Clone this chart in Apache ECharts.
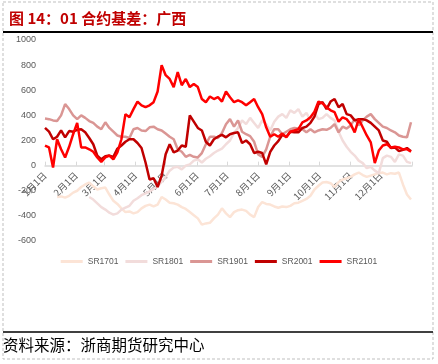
<!DOCTYPE html>
<html><head><meta charset="utf-8">
<script src="https://cdn.jsdelivr.net/npm/echarts@6/dist/echarts.min.js"></script>
<style>html,body{margin:0;padding:0;background:#fff}#c{width:438px;height:364px}</style>
</head><body><div id="c"></div>
<script>
// day of year (0 = 1月1日), sampled every 4 days
const days=[0,4,8,12,16,20,24,28,32,36,40,44,48,52,56,60,64,68,72,76,80,84,88,92,96,100,104,108,112,116,120,124,128,132,136,140,144,148,152,156,160,164,168,172,176,180,184,188,192,196,200,204,208,212,216,220,224,228,232,236,240,244,248,252,256,260,264,268,272,276,280,284,288,292,296,300,304,308,312,316,320,324,328,332,336,340,344,348,352,356,360,364];
const monthStarts=[0,31,59,90,120,151,181,212,243,273,304,334];
const monthEnd=365;
const monthLabels=['1月1日','2月1日','3月1日','4月1日','5月1日','6月1日','7月1日','8月1日','9月1日','10月1日','11月1日','12月1日'];
const seriesNames=['SR1701','SR1801','SR1901','SR2001','SR2101'];

const sr1701=[null,null,null,-250,-245,-255,-240,-215,-200,-170,
-150,-135,-165,-190,-180,-175,-230,-280,-305,-340,
-370,-365,-380,-370,-340,-320,-310,-325,-310,-250,
-270,-295,-300,-310,-330,-345,-370,-395,-420,-470,
-460,-455,-420,-390,-340,-380,-410,-370,-355,-350,
-360,-390,-410,-330,-290,-305,-310,-325,-335,-325,
-330,-320,-300,-295,-280,-265,-240,-190,-160,-135,
-130,-140,-170,-130,-110,-100,-90,-70,-55,-75,
-90,-80,-70,-60,-55,-70,-60,-65,-55,-150,
-230,-270];
const sr1801=[null,null,null,null,null,null,null,null,null,null,
null,-250,-270,-300,-330,-350,-375,-390,-380,-350,
-335,-320,-280,-260,-235,-220,-205,-185,-165,-130,
-90,-40,-15,-10,-30,0,10,40,50,25,
55,75,100,120,135,170,200,260,300,360,
330,380,340,300,360,330,280,350,390,410,
380,440,420,450,390,420,360,420,370,380,
410,380,360,270,200,150,110,80,40,20,
-20,-10,-40,-60,60,80,70,30,90,80,
30,20];
const sr1901=[375,370,360,355,400,490,450,400,370,400,
380,355,340,310,290,345,300,270,240,230,
230,220,290,300,280,275,305,310,290,280,
255,230,210,130,110,70,85,70,65,100,
170,230,230,220,260,330,370,310,360,270,
250,235,190,90,70,130,230,290,290,250,
270,290,300,295,290,265,290,265,280,290,
285,300,330,265,310,295,320,370,320,360,
390,410,370,340,310,300,280,265,240,230,
225,345];
const sr2001=[300,270,210,230,280,225,275,270,285,290,
265,220,170,80,50,75,80,70,135,160,
190,210,210,180,140,25,-110,-100,-170,-80,
90,170,105,120,160,150,400,350,300,280,
190,160,210,230,245,225,250,260,265,180,
200,170,100,110,100,10,110,160,195,245,
230,270,265,265,300,310,340,390,490,505,
450,510,530,465,490,410,400,360,370,370,
360,340,310,280,200,190,140,145,115,125,
140,115];
const sr2101=[160,145,-15,210,130,65,150,250,340,145,
145,130,110,65,30,65,80,50,105,210,
410,385,450,510,480,465,480,505,590,800,
720,690,625,745,640,690,625,650,625,530,
505,550,530,545,510,590,545,505,520,505,
480,505,530,465,410,305,230,250,230,255,
225,270,280,290,345,360,385,430,510,495,
465,440,425,350,385,370,330,265,370,305,
240,185,20,120,160,170,145,150,145,130,
130,110];

const seriesValues=[sr1701,sr1801,sr1901,sr2001,sr2101];
const colors=['#FCE4D6','#F2DCDB','#DA9694','#C00000','#FF0000'];
const yMin=-600, yMax=1000;

const chart=echarts.init(document.getElementById('c'),null,{renderer:'canvas'});
const tickVals=monthStarts.concat([monthEnd]);
const gridTop=40, gridBottom=123, H=364;
const plotH=H-gridTop-gridBottom;
const zeroOffset=-plotH*(0-yMin)/(yMax-yMin);
chart.setOption({
  animation:false,
  backgroundColor:'#fff',
  title:{text:'图 14：01 合约基差：广西',left:4,top:6,
    textStyle:{fontSize:15,fontWeight:'bold',color:'#C00000',fontFamily:'Noto Sans CJK SC'}},
  grid:{left:45,right:26,top:gridTop,bottom:gridBottom,containLabel:false},
  legend:{bottom:93,left:'center',itemWidth:22,itemHeight:3,itemGap:7,icon:'rect',
    textStyle:{fontSize:8.5,color:'#595959',fontFamily:'Liberation Sans'},
    data:seriesNames},
  xAxis:{type:'value',min:0,max:monthEnd,position:'bottom',offset:zeroOffset,
    axisLine:{onZero:false,lineStyle:{color:'#D9D9D9',width:1.5}},
    axisTick:{show:true,inside:true,length:4,customValues:tickVals,lineStyle:{color:'#D9D9D9'}},
    splitLine:{show:false},
    axisLabel:{customValues:monthStarts,rotate:45,margin:8,showMinLabel:true,
      fontSize:9.5,color:'#595959',fontFamily:'Noto Sans CJK SC',
      formatter:function(v){const i=monthStarts.indexOf(Math.round(v));return i>=0?monthLabels[i]:'';}}
  },
  yAxis:{type:'value',min:yMin,max:yMax,interval:200,
    axisLine:{show:false},axisTick:{show:false},splitLine:{show:false},
    axisLabel:{fontSize:9,color:'#595959',margin:9,fontFamily:'Liberation Sans',
      formatter:function(v){return String(v);}}},
  series:seriesNames.map((n,k)=>({
    name:n,type:'line',symbol:'none',showSymbol:false,
    lineStyle:{width:2.5,color:colors[k]},itemStyle:{color:colors[k]},
    data:days.map((d,i)=>[d,seriesValues[k][i]])
  })),
  graphic:[
    {type:'rect',shape:{x:3,y:2,width:430,height:357},silent:true,
      style:{fill:'none',stroke:'#BFBFBF',lineWidth:1,lineDash:[3,2]}},
    {type:'line',shape:{x1:3,y1:32,x2:433,y2:32},silent:true,style:{stroke:'#000',lineWidth:2}},
    {type:'line',shape:{x1:3,y1:332,x2:433,y2:332},silent:true,style:{stroke:'#000',lineWidth:1.5}},
    {type:'text',left:3,top:337,silent:true,
      style:{text:'资料来源：浙商期货研究中心',fontSize:15.5,fill:'#000',fontFamily:'Noto Sans CJK SC'}}
  ]
});
</script></body></html>
